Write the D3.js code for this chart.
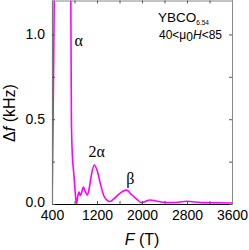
<!DOCTYPE html>
<html>
<head>
<meta charset="utf-8">
<script src="https://cdn.jsdelivr.net/npm/d3@7"></script>
<style>
  body { margin: 0; background: #fff; }
  svg { display: block; }
  .tick text { font-family: "Liberation Sans", Arial, sans-serif; font-size: 14px; fill: #000; }
  .greek { font-family: "Liberation Serif", "Times New Roman", serif; font-size: 16px; }
  .lab { font-family: "Liberation Sans", Arial, sans-serif; }
</style>
</head>
<body>
<div id="vis"></div>
<script>
var width = 249,
    height = 250;

// frequency F (T) and amplitude delta f (kHz)
var freq = [405, 420, 440, 470, 520, 600, 680, 720, 735, 745, 760, 790, 815, 835,
            860, 880, 900, 920, 957, 990, 1028, 1060, 1100, 1152, 1200, 1260, 1320,
            1372, 1430, 1500, 1580, 1660, 1727, 1800, 1900, 1994, 2060, 2142, 2250,
            2373, 2500, 2650, 2795, 2950, 3084, 3300, 3600];
var amp = [0.10, 0.5, 1.2, 2.0, 2.8, 3.1, 2.6, 1.8, 1.2, 0.5, 0.3, 0.17, 0.06, 0.0,
           0.05, 0.072, 0.05, 0.06, 0.10, 0.075, 0.053, 0.09, 0.17, 0.23, 0.2, 0.12, 0.05,
           0.024, 0.015, 0.03, 0.055, 0.075, 0.082, 0.06, 0.03, 0.008, 0.015, 0.024, 0.018,
           0.01, 0.008, 0.01, 0.016, 0.012, 0.008, 0.007, 0.006];

var xTicks = [400, 800, 1200, 1600, 2000, 2400, 2800, 3200, 3600];
var xLabels = [400, 1200, 2000, 2800, 3600];
var yTicks = [0, 0.25, 0.5, 0.75, 1.0];
var yLabels = [0, 0.5, 1.0];

// peak labels
var peaks = [
  {text: "α", f: 800, v: 0.93},
  {text: "2α", f: 1050, v: 0.28},
  {text: "β", f: 1720, v: 0.12}
];

var margin = {left: 52, right: 17, top: 0.5, bottom: 46};

var svg = d3.select('#vis').append('svg')
    .attr("width", width)
    .attr("height", height);

var x = d3.scaleLinear().domain([400, 3600]).range([margin.left, width - margin.right]);
var y = d3.scaleLinear().domain([0, 1.2]).range([height - margin.bottom, margin.top]);

svg.append("clipPath").attr("id", "clip")
  .append("rect")
    .attr("x", x(400)).attr("y", y(1.2))
    .attr("width", x(3600) - x(400)).attr("height", y(0) - y(1.2));

var data = freq.map(function(f, i) { return [f, amp[i]]; });

var line = d3.line()
    .x(function(d) { return x(d[0]); })
    .y(function(d) { return y(d[1]); })
    .curve(d3.curveMonotoneX);

svg.append("path")
    .datum(data)
    .attr("clip-path", "url(#clip)")
    .attr("fill", "none")
    .attr("stroke", "#ff00ff")
    .attr("stroke-width", 1.6)
    .attr("d", line);

function fmtX(d) { return xLabels.indexOf(d) >= 0 ? d : ""; }
function fmtY(d) { return yLabels.indexOf(d) >= 0 ? d.toFixed(1) : ""; }

// bottom
var gb = svg.append("g")
    .attr("transform", "translate(0," + y(0) + ")")
    .call(d3.axisBottom(x).tickValues(xTicks).tickSizeInner(-3).tickSizeOuter(0).tickPadding(6).tickFormat(fmtX));
gb.select(".domain").attr("stroke", "#000").attr("stroke-width", 1.2);
gb.selectAll(".tick line").attr("stroke", "#555");

// top
var gt = svg.append("g")
    .attr("transform", "translate(0," + y(1.2) + ")")
    .call(d3.axisTop(x).tickValues(xTicks).tickSizeInner(-3).tickSizeOuter(0).tickFormat(""));
gt.select(".domain").attr("stroke", "#888");
gt.selectAll(".tick line").attr("stroke", "#555");

// left
var gl = svg.append("g")
    .attr("transform", "translate(" + x(400) + ",0)")
    .call(d3.axisLeft(y).tickValues(yTicks).tickSizeInner(-3).tickSizeOuter(0).tickPadding(7).tickFormat(fmtY));
gl.select(".domain").attr("stroke", "#777").attr("stroke-width", 1.2);
gl.selectAll(".tick line").attr("stroke", "#555");
gl.selectAll(".tick text").attr("dy", function(d) { return d === 0 ? "0.2em" : "0.32em"; });

// right
var gr = svg.append("g")
    .attr("transform", "translate(" + x(3600) + ",0)")
    .call(d3.axisRight(y).tickValues(yTicks).tickSizeInner(-3).tickSizeOuter(0).tickFormat(""));
gr.select(".domain").attr("stroke", "#888");
gr.selectAll(".tick line").attr("stroke", "#555");

svg.selectAll(".peak")
    .data(peaks)
    .enter()
    .append("text")
    .attr("class", "greek")
    .attr("x", function(d) { return x(d.f); })
    .attr("y", function(d) { return y(d.v); })
    .text(function(d) { return d.text; });

// axis titles
var xt = svg.append("text")
    .attr("class", "lab")
    .attr("x", x(2000))
    .attr("y", 245)
    .attr("text-anchor", "middle")
    .style("font-size", "16px");
xt.append("tspan").style("font-style", "italic").text("F");
xt.append("tspan").text(" (T)");

var yt = svg.append("text")
    .attr("class", "lab")
    .attr("transform", "translate(15,113) rotate(-90)")
    .attr("text-anchor", "middle")
    .style("font-size", "16px");
yt.append("tspan").text("Δ");
yt.append("tspan").style("font-style", "italic").text("f");
yt.append("tspan").text(" (kHz)");

// sample annotation
var t1 = svg.append("text")
    .attr("class", "lab")
    .attr("x", 158)
    .attr("y", 22)
    .style("font-size", "13.5px");
t1.append("tspan").text("YBCO");
t1.append("tspan").attr("dy", 3).style("font-size", "6.5px").text("6.54");

var t2 = svg.append("text")
    .attr("class", "lab")
    .attr("x", 159)
    .attr("y", 39)
    .style("font-size", "12px");
t2.append("tspan").text("40<μ");
t2.append("tspan").attr("dy", 2).text("0");
t2.append("tspan").attr("dy", -2).style("font-style", "italic").text("H");
t2.append("tspan").text("<85");
</script>
</body>
</html>
